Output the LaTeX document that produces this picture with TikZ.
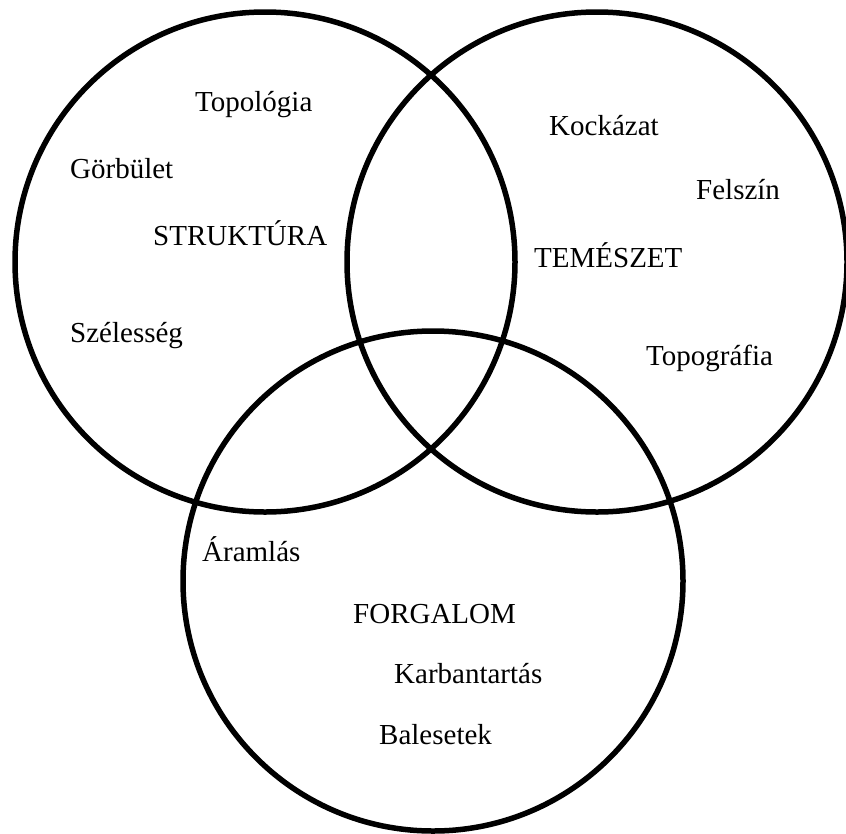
\documentclass[tikz,border=0pt]{standalone}
\usepackage{fontspec}
\setmainfont{Liberation Serif}
\begin{document}
\begin{tikzpicture}[x=1pt,y=-1pt,
  ring/.style={draw=black, line width=5.5pt, circle, minimum size=500pt, inner sep=0pt},
  lbl/.style={anchor=base west, inner sep=0pt, font=\fontsize{29}{33}\selectfont}]
\useasboundingbox (0,0) rectangle (846,833);
\node[ring] (L) at (265,262) {};
\node[ring] (R) at (597,262) {};
\node[ring] (B) at (433,581) {};
% STRUKTURA
\node[lbl] (topologia) at (195,111) {Topológia};
\node[lbl] (gorbulet) at (70,178) {Görbület};
\node[lbl] (struktura) at (153,245) {STRUKTÚRA};
\node[lbl] (szelesseg) at (70,342) {Szélesség};
% TERMESZET
\node[lbl] (kockazat) at (549,135) {Kockázat};
\node[lbl] (felszin) at (696,199) {Felszín};
\node[lbl] (temeszet) at (534,267) {TEMÉSZET};
\node[lbl] (topografia) at (646,365) {Topográfia};
% FORGALOM
\node[lbl] (aramlas) at (202,561) {Áramlás};
\node[lbl] (forgalom) at (353,623) {FORGALOM};
\node[lbl] (karbantartas) at (394,683) {Karbantartás};
\node[lbl] (balesetek) at (379,744) {Balesetek};
\end{tikzpicture}
\end{document}
